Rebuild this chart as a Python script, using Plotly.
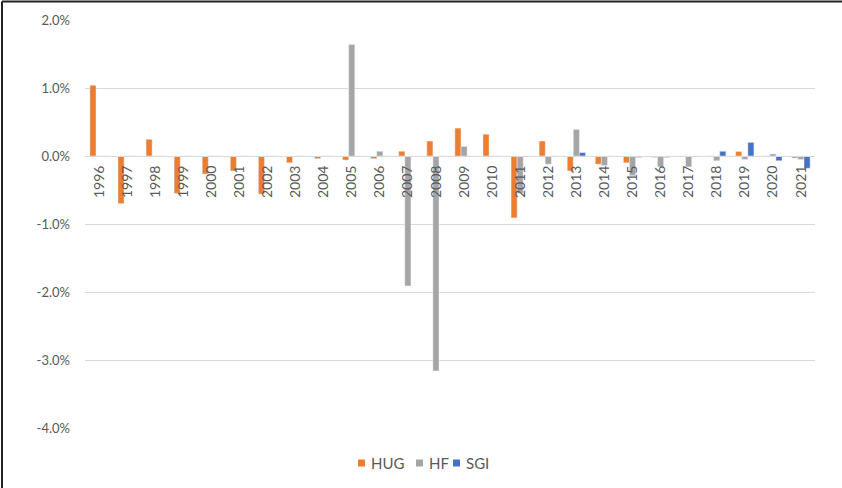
import plotly.graph_objects as go

# Annual differences (percentage points) per series
years = [str(y) for y in range(1996, 2022)]

hug = [1.04, -0.70, 0.245, -0.55, -0.265, -0.22, -0.56, -0.10, -0.04, -0.06,
       -0.04, 0.07, 0.22, 0.41, 0.32, -0.91, 0.22, -0.22, -0.12, -0.10,
       -0.02, 0.0, 0.0, 0.065, 0.0, -0.03]

hf = [0.0, 0.0, 0.0, 0.0, 0.0, 0.0, 0.0, 0.0, 0.0, 1.64,
      0.07, -1.91, -3.16, 0.14, 0.0, -0.55, -0.12, 0.39, -0.14, -0.29,
      -0.16, -0.16, -0.07, -0.05, 0.03, -0.05]

sgi = [0.0, 0.0, 0.0, 0.0, 0.0, 0.0, 0.0, 0.0, 0.0, 0.0,
       0.0, 0.0, 0.0, 0.0, 0.0, 0.0, 0.0, 0.05, 0.0, -0.02,
       -0.02, 0.0, 0.07, 0.20, -0.07, -0.18]

series_names = ["HUG", "HF", "SGI"]
series_colors = ["#ED7D31", "#A5A5A5", "#4472C4"]

y_ticks = [2, 1, 0, -1, -2, -3, -4]

text_color = "#595959"
grid_color = "#d9d9d9"
font_family = "Lato, Carlito, Calibri, sans-serif"

fig = go.Figure()
for name, vals, color in zip(series_names, [hug, hf, sgi], series_colors):
    fig.add_trace(go.Bar(name=name, x=years, y=vals, marker_color=color))

# plot area spans 85..815 px horizontally, 20..428 px vertically
L, R, T, B = 85, 27, 20, 60
W, H = 842, 488
pw, ph = W - L - R, H - T - B
zero_pos = (0 - (-4)) / 6.0

fig.update_layout(
    width=W, height=H,
    margin=dict(l=L, r=R, t=T, b=B),
    paper_bgcolor="white", plot_bgcolor="white",
    barmode="group", bargap=0.35, bargroupgap=0,
    font=dict(family=font_family, size=12, color=text_color),
    showlegend=False,
    xaxis=dict(
        type="category", anchor="free", position=zero_pos,
        showline=True, linecolor=grid_color, linewidth=1,
        showgrid=False, ticks="", tickangle=-90,
        tickfont=dict(size=14, color=text_color),
        ticklabelstandoff=3,
    ),
    yaxis=dict(
        range=[-4, 2], tickvals=y_ticks,
        ticktext=[f"{v:.1f}%" for v in y_ticks],
        showgrid=True, gridcolor=grid_color, gridwidth=1,
        zeroline=False, showline=False, ticks="",
        tickfont=dict(size=13, color=text_color),
        ticklabelstandoff=14,
    ),
)

# compact legend below the plot: small square swatch followed by the name
def px_x(p):
    return (p - L) / pw

def px_y(p):
    return (T + ph - p) / ph

legend_y = 463
swatch_left = [358, 416, 453]
for name, color, sx in zip(series_names, series_colors, swatch_left):
    fig.add_shape(type="rect", xref="paper", yref="paper",
                  x0=px_x(sx), x1=px_x(sx + 7),
                  y0=px_y(legend_y + 3.5), y1=px_y(legend_y - 3.5),
                  fillcolor=color, line=dict(width=0))
    fig.add_annotation(xref="paper", yref="paper",
                       x=px_x(sx + 11), y=px_y(legend_y),
                       xanchor="left", yanchor="middle", showarrow=False,
                       text=name, font=dict(size=15, color=text_color))

# outer frame on top and left edges
x_left = px_x(2)
x_right = px_x(W)
y_top = px_y(1.5)
y_bot = px_y(H)
fig.add_shape(type="line", xref="paper", yref="paper",
              x0=x_left, x1=x_right, y0=y_top, y1=y_top,
              line=dict(color="#222222", width=2))
fig.add_shape(type="line", xref="paper", yref="paper",
              x0=x_left, x1=x_left, y0=y_top, y1=y_bot,
              line=dict(color="#222222", width=2))

fig.write_html("out.html")
